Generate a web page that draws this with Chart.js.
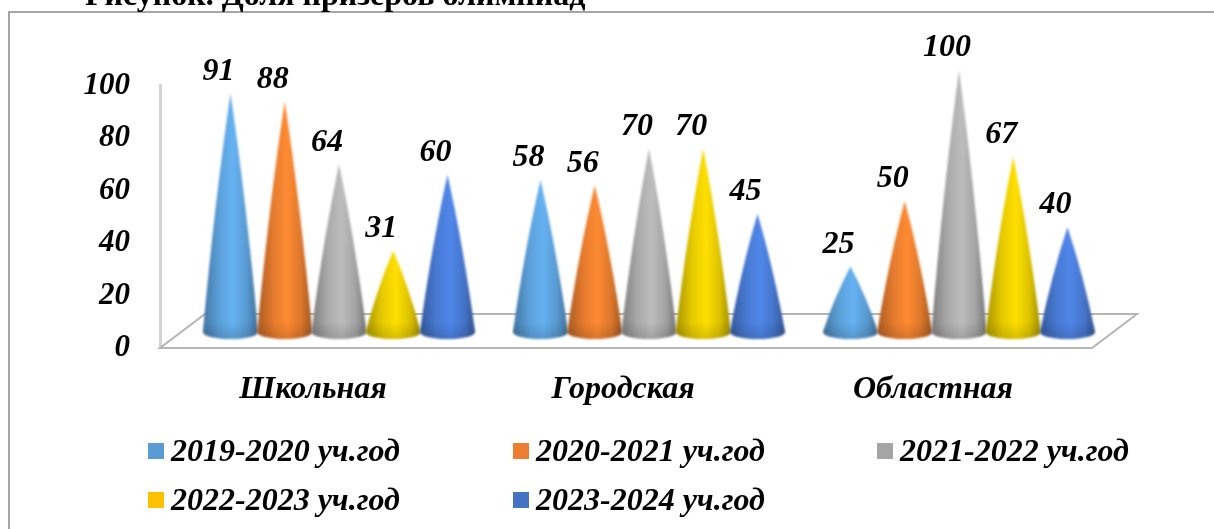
<!DOCTYPE html>
<html>
<head>
<meta charset="utf-8">
<style>html,body{margin:0;padding:0;background:#fff;overflow:hidden}canvas{display:block}</style>
<script src="https://cdn.jsdelivr.net/npm/chart.js@4/dist/chart.umd.min.js"></script>
</head>
<body>
<canvas id="c" width="1214" height="529"></canvas>
<script>
const categories = ['Школьная', 'Городская', 'Областная'];
const seriesNames = ['2019-2020 уч.год', '2020-2021 уч.год', '2021-2022 уч.год', '2022-2023 уч.год', '2023-2024 уч.год'];
const s2019 = [91, 58, 25];
const s2020 = [88, 56, 50];
const s2021 = [64, 70, 100];
const s2022 = [31, 70, 67];
const s2023 = [60, 45, 40];
const seriesColors = ['#5b9bd5', '#ed7d31', '#a5a5a5', '#ffc000', '#4472c4'];
const coneLights = ['#66b2f2', '#ff8a33', '#bdbdbd', '#ffe000', '#5087ea'];
const yTicks = [0, 20, 40, 60, 80, 100];
const titleText = 'Рисунок. Доля призеров олимпиад';

const FONT = '"Liberation Serif", serif';
const labelFont = 'italic bold 32px ' + FONT;
const depthX = 24, depthY = 12;

function shade(hex, f) {
  const n = parseInt(hex.slice(1), 16);
  const ch = [n >> 16 & 255, n >> 8 & 255, n & 255].map(v =>
    Math.round(f < 0 ? v * (1 + f) : v + (255 - v) * f));
  return `rgb(${ch[0]},${ch[1]},${ch[2]})`;
}

const conePlugin = {
  id: 'cones',
  beforeDraw(chart) {
    const ctx = chart.ctx;
    ctx.save();
    ctx.strokeStyle = '#a6a6a6';
    ctx.lineWidth = 2;
    ctx.beginPath();
    ctx.moveTo(9, 529); ctx.lineTo(9, 12); ctx.lineTo(1214, 12);
    ctx.stroke();
    ctx.fillStyle = '#000';
    ctx.font = 'bold 32px ' + FONT;
    ctx.textAlign = 'left';
    ctx.textBaseline = 'alphabetic';
    ctx.fillText(titleText, 85, 5);
    ctx.restore();
  },
  beforeDatasetsDraw(chart) {
    const ctx = chart.ctx, a = chart.chartArea;
    const l = a.left, r = a.left + 932, b = a.bottom + 1, d = 45, t = b - 34;
    ctx.save();
    ctx.strokeStyle = '#b5b5b5';
    ctx.lineWidth = 2;
    ctx.beginPath();
    ctx.moveTo(l, b); ctx.lineTo(r, b); ctx.lineTo(r + d, t); ctx.lineTo(l + d, t); ctx.closePath();
    ctx.stroke();
    ctx.restore();
  },
  beforeDatasetDraw() { return false; },
  afterDatasetsDraw(chart) {
    const ctx = chart.ctx;
    const base = chart.scales.y.getPixelForValue(0) - depthY;
    const ry = 7;
    const cy = base - 3;
    chart.data.datasets.forEach((ds, i) => {
      chart.getDatasetMeta(i).data.forEach(el => {
        const light = coneLights[i];
        const x = el.x + depthX, top = el.y - depthY - 3, hw = el.width / 2 + 0.5;
        const h = cy - top;
        const g = ctx.createLinearGradient(x - hw, 0, x + hw, 0);
        g.addColorStop(0, shade(light, -0.34));
        g.addColorStop(0.3, shade(light, -0.1));
        g.addColorStop(0.55, light);
        g.addColorStop(0.8, shade(light, -0.14));
        g.addColorStop(1, shade(light, -0.38));
        ctx.save();
        ctx.filter = 'blur(0.8px)';
        ctx.beginPath();
        ctx.moveTo(x, top);
        ctx.quadraticCurveTo(x + hw * 0.56, top + h * 0.44, x + hw, cy);
        ctx.ellipse(x, cy, hw, ry, 0, 0, Math.PI);
        ctx.quadraticCurveTo(x - hw * 0.56, top + h * 0.44, x, top);
        ctx.closePath();
        ctx.fillStyle = g;
        ctx.fill();
        const v = ctx.createLinearGradient(0, cy - 10, 0, cy + ry);
        v.addColorStop(0, 'rgba(0,0,0,0)');
        v.addColorStop(1, 'rgba(0,0,0,0.14)');
        ctx.fillStyle = v;
        ctx.fill();
        ctx.restore();
      });
    });
    ctx.save();
    ctx.fillStyle = '#000';
    ctx.font = labelFont;
    ctx.textAlign = 'center';
    ctx.textBaseline = 'middle';
    chart.data.datasets.forEach((ds, i) => {
      chart.getDatasetMeta(i).data.forEach((el, j) => {
        ctx.fillText(String(ds.data[j]), el.x + depthX - 12, el.y - depthY - 25);
      });
    });
    ctx.restore();
  },
  afterDraw(chart) {
    const ctx = chart.ctx;
    const cols = [148, 513, 877], rows = [451, 500];
    ctx.save();
    ctx.font = labelFont;
    ctx.textAlign = 'left';
    ctx.textBaseline = 'middle';
    chart.data.datasets.forEach((ds, i) => {
      const x = cols[i % 3], y = rows[Math.floor(i / 3)];
      ctx.fillStyle = ds.backgroundColor;
      ctx.fillRect(x, y - 8, 16, 16);
      ctx.fillStyle = '#000';
      ctx.fillText(ds.label, x + 23, y + 2);
    });
    ctx.restore();
  }
};

new Chart(document.getElementById('c'), {
  type: 'bar',
  data: {
    labels: categories,
    datasets: [s2019, s2020, s2021, s2022, s2023].map((d, i) => ({
      label: seriesNames[i],
      data: d,
      backgroundColor: seriesColors[i],
      categoryPercentage: 0.875,
      barPercentage: 1
    }))
  },
  options: {
    responsive: false,
    animation: false,
    layout: { padding: { top: 85, right: 124, bottom: 0, left: 0 } },
    plugins: { legend: { display: false }, title: { display: false }, tooltip: { enabled: false } },
    scales: {
      x: {
        grid: { display: false, drawTicks: false },
        border: { display: false },
        afterFit(s) { s.height = 182; },
        ticks: { color: '#000', padding: 24, labelOffset: -2, maxRotation: 0, font: { family: FONT, size: 32, style: 'italic', weight: 'bold' } }
      },
      y: {
        min: 0, max: 100,
        afterFit(s) { s.width = 160; },
        afterBuildTicks(s) { s.ticks = yTicks.map(v => ({ value: v })); },
        grid: { display: false, drawTicks: false },
        border: { display: true, color: '#d4d4d4', width: 3 },
        ticks: { color: '#000', padding: 30, labelOffset: 1, font: { family: FONT, size: 31, style: 'italic', weight: 'bold' } }
      }
    }
  },
  plugins: [conePlugin]
});
</script>
</body>
</html>
